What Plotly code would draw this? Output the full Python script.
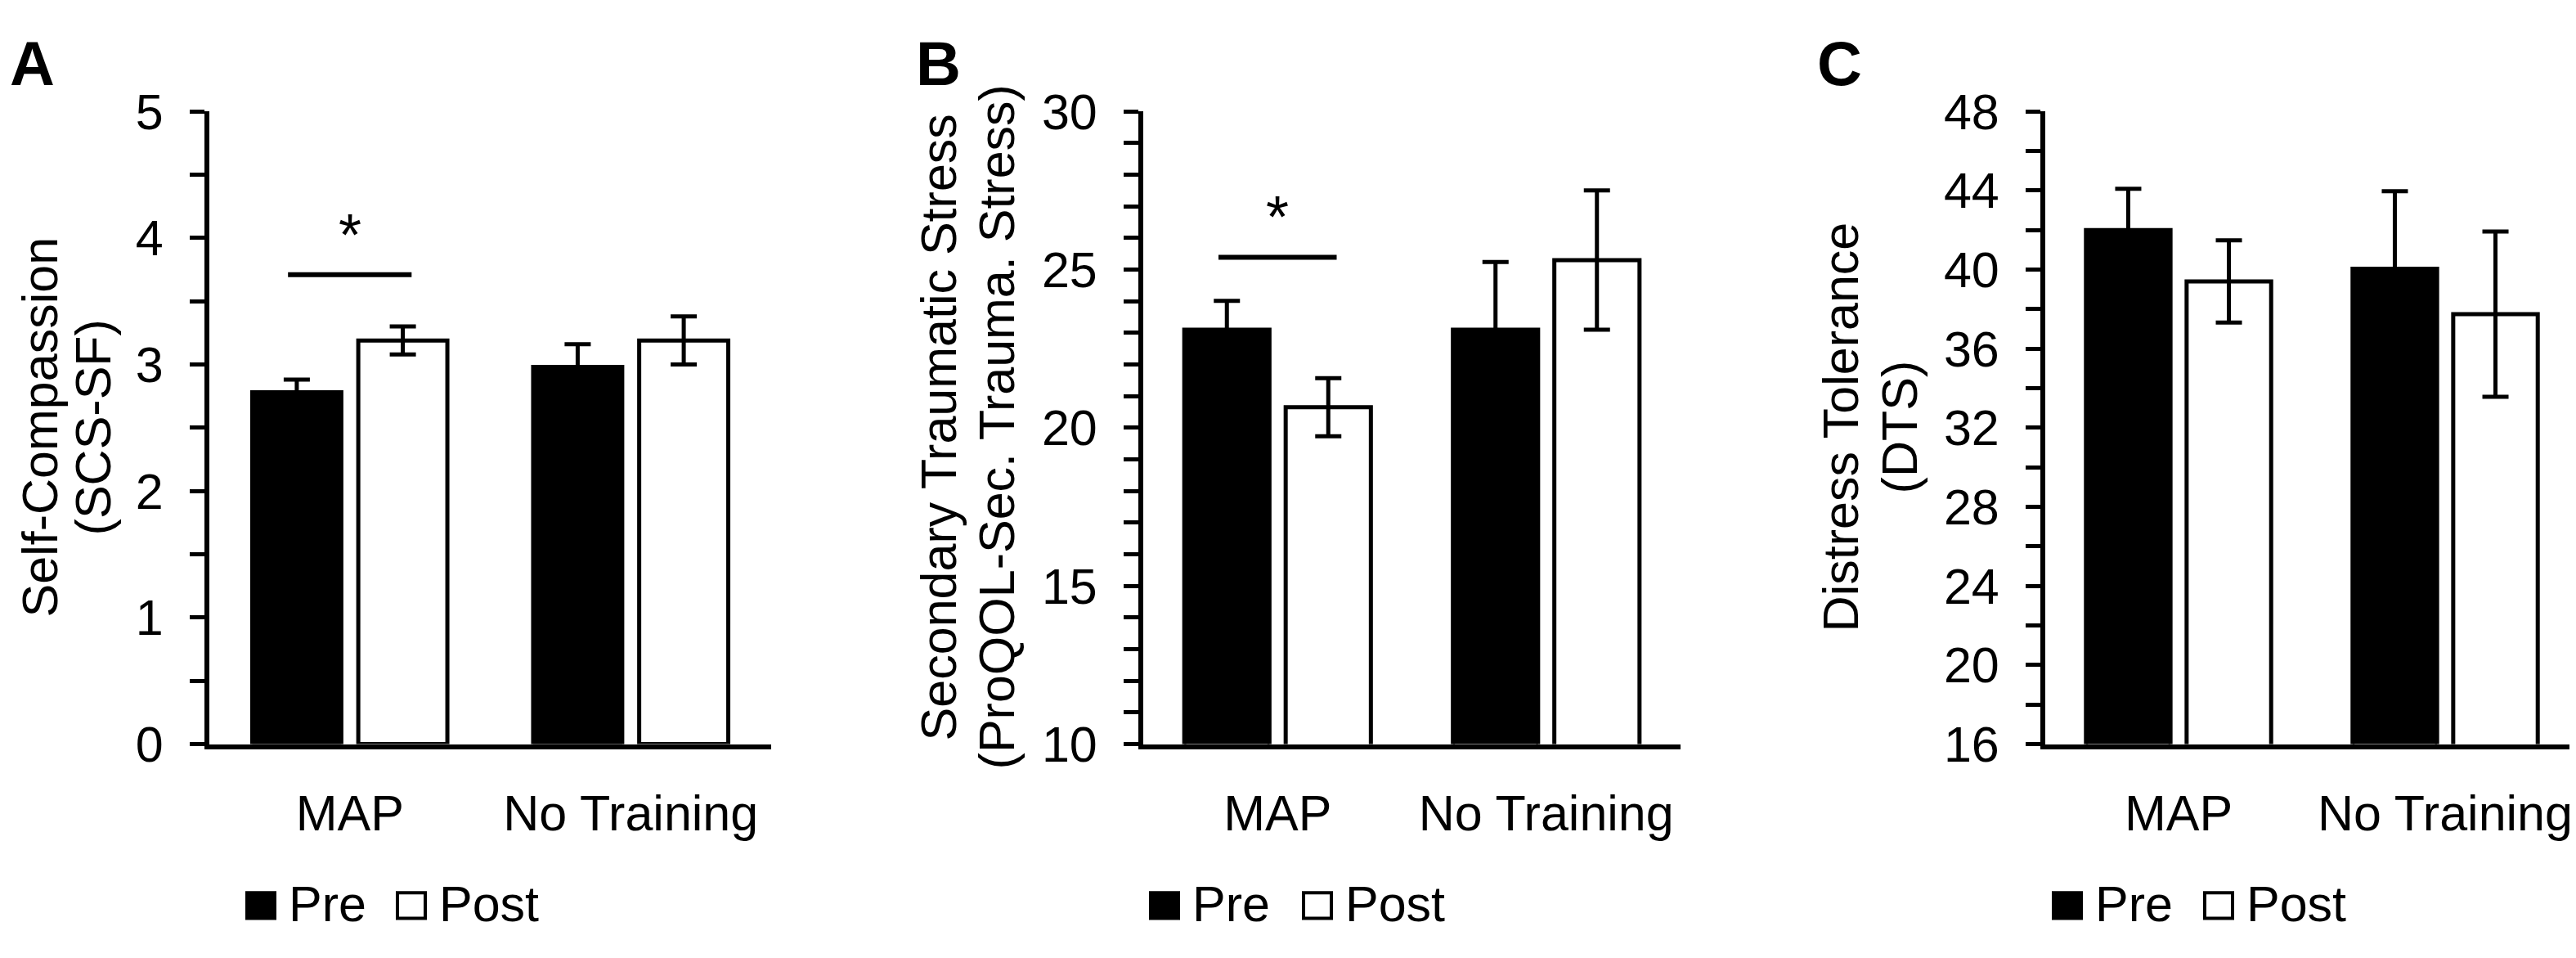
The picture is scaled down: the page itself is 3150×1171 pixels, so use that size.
import plotly.graph_objects as go
from plotly.subplots import make_subplots

# Data
categories = ["MAP", "No Training"]

# A: Self-Compassion (SCS-SF)
sc_pre = [2.78, 2.98]
sc_pre_err = [0.10, 0.18]
sc_post = [3.19, 3.19]
sc_post_err = [0.11, 0.19]

# B: Secondary Traumatic Stress (ProQOL)
sts_pre = [23.1, 23.1]
sts_pre_err = [0.91, 2.14]
sts_post = [20.65, 25.3]
sts_post_err = [0.92, 2.2]

# C: Distress Tolerance (DTS)
dt_pre = [42.0, 40.04]
dt_pre_err = [2.09, 3.92]
dt_post = [39.4, 37.75]
dt_post_err = [2.08, 4.18]

# significance markers (MAP pre vs post): bar height, star height
sig_a = [3.71, 4.1]
sig_b = [25.39, 26.97]

W, H = 3150, 1171
FONT = "Liberation Sans, Arial, sans-serif"
FS = 61


def px(x):
    return x / W


def py(y):
    return 1 - y / H


fig = make_subplots(rows=1, cols=3)

panels = [
    (sc_pre, sc_pre_err, sc_post, sc_post_err),
    (sts_pre, sts_pre_err, sts_post, sts_post_err),
    (dt_pre, dt_pre_err, dt_post, dt_post_err),
]

for i, (pre, pre_err, post, post_err) in enumerate(panels, start=1):
    fig.add_trace(
        go.Bar(
            x=categories,
            y=pre,
            name="Pre",
            marker=dict(color="black", line=dict(color="black", width=5)),
            error_y=dict(type="data", array=pre_err, color="black", thickness=5, width=16),
            showlegend=False,
        ),
        row=1,
        col=i,
    )
    fig.add_trace(
        go.Bar(
            x=categories,
            y=post,
            name="Post",
            marker=dict(color="white", line=dict(color="black", width=5)),
            error_y=dict(type="data", array=post_err, color="black", thickness=5, width=16),
            showlegend=False,
        ),
        row=1,
        col=i,
    )

# plot areas (pixel positions of the axes in the reference)
x_domains = [(248, 935), (1390, 2047), (2493, 3145)]
y_dom = [py(921), py(100)]
y_ranges = [(0, 5), (10, 30), (16, 48)]
y_major = [1, 5, 4]
y_minor = [0.5, 1, 2]

for i in range(3):
    n = "" if i == 0 else str(i + 1)
    fig.layout["xaxis" + n].update(
        domain=[px(x_domains[i][0]), px(x_domains[i][1])],
        type="category",
        range=[-0.5, 1.5],
        showline=True,
        linecolor="black",
        linewidth=6,
        ticks="",
        showgrid=False,
        zeroline=False,
        tickfont=dict(family=FONT, size=FS, color="black"),
        ticklabelstandoff=26,
    )
    fig.layout["yaxis" + n].update(
        domain=y_dom,
        range=list(y_ranges[i]),
        dtick=y_major[i],
        tick0=y_ranges[i][0],
        showline=True,
        linecolor="black",
        linewidth=6,
        ticks="outside",
        ticklen=18,
        tickwidth=5,
        tickcolor="black",
        minor=dict(dtick=y_minor[i], tick0=y_ranges[i][0], ticks="outside",
                   ticklen=18, tickwidth=5, tickcolor="black", showgrid=False),
        showgrid=False,
        zeroline=False,
        tickfont=dict(family=FONT, size=FS, color="black"),
        ticklabelstandoff=20,
    )

annotations = []

# panel letters
for letter, x in [("A", 2), ("B", 1110), ("C", 2212)]:
    annotations.append(dict(
        text="<b>%s</b>" % letter, x=px(x), y=py(38), xref="paper", yref="paper",
        xanchor="left", yanchor="middle", showarrow=False,
        font=dict(family=FONT, size=76, color="black"),
    ))

# axis titles, two lines each
titles = [
    ("Self-Compassion", "(SCS-SF)", 41, 106),
    ("Secondary Traumatic Stress", "(ProQOL-Sec. Trauma. Stress)", 1140, 1211),
    ("Distress Tolerance", "(DTS)", 2243, 2315),
]
for line1, line2, x1, x2 in titles:
    for txt, x in [(line1, x1), (line2, x2)]:
        annotations.append(dict(
            text=txt, x=px(x), y=py(510), xref="paper", yref="paper",
            xanchor="center", yanchor="middle", textangle=-90, showarrow=False,
            font=dict(family=FONT, size=FS, color="black"),
        ))

shapes = []

# significance bars with asterisks
for n, sig in [("", sig_a), ("2", sig_b)]:
    shapes.append(dict(
        type="line", xref="x" + n, yref="y" + n, x0=-0.22, x1=0.22,
        y0=sig[0], y1=sig[0], line=dict(color="black", width=6),
    ))
    annotations.append(dict(
        text="*", x=0, y=sig[1], xref="x" + n, yref="y" + n,
        xanchor="center", yanchor="middle", yshift=-12, showarrow=False,
        font=dict(family=FONT, size=72, color="black"),
    ))

# legends (Pre / Post) drawn under each panel
legend_pos = [(293, 477), (1398, 1585), (2502, 2687)]
for pre_x, post_x in legend_pos:
    for label, x0, fill in [("Pre", pre_x, "black"), ("Post", post_x, "white")]:
        shapes.append(dict(
            type="rect", xref="paper", yref="paper",
            x0=px(x0 + 1), x1=px(x0 + 35), y0=py(1147), y1=py(1114),
            fillcolor=fill, line=dict(color="black", width=4),
        ))
        annotations.append(dict(
            text=label, x=px(x0 + 50), y=py(1129), xref="paper", yref="paper",
            xanchor="left", yanchor="middle", showarrow=False,
            font=dict(family=FONT, size=FS, color="black"),
        ))

fig.update_layout(
    width=W,
    height=H,
    margin=dict(l=0, r=0, t=0, b=0),
    autosize=False,
    barmode="group",
    bargap=0.245,
    bargroupgap=0.16,
    plot_bgcolor="white",
    paper_bgcolor="white",
    showlegend=False,
    annotations=annotations,
    shapes=shapes,
    font=dict(family=FONT, size=FS, color="black"),
)

fig.write_html("out.html")
